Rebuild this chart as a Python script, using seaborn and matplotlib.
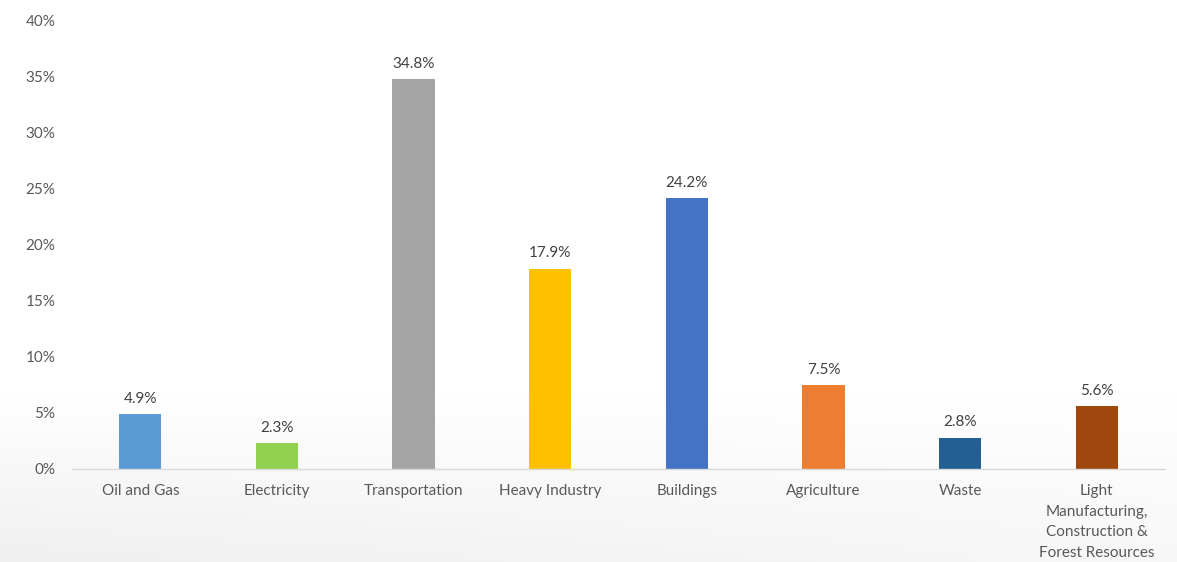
import matplotlib
matplotlib.use("Agg")
import matplotlib.pyplot as plt
import seaborn as sns
import pandas as pd
import numpy as np
from matplotlib.ticker import FuncFormatter

categories = ["Oil and Gas", "Electricity", "Transportation", "Heavy Industry",
              "Buildings", "Agriculture", "Waste",
              "Light\nManufacturing,\nConstruction &\nForest Resources"]
values = [4.9, 2.3, 34.8, 17.9, 24.2, 7.5, 2.8, 5.6]
colors = ["#5B9BD5", "#92D050", "#A5A5A5", "#FFC000",
          "#4472C4", "#ED7D31", "#255E91", "#9E480E"]
y_ticks = [0, 5, 10, 15, 20, 25, 30, 35, 40]

sns.set_style("white")
plt.rcParams['font.family'] = ['Lato', 'DejaVu Sans']

df = pd.DataFrame({"category": categories, "value": values})

fig = plt.figure(figsize=(11.77, 5.62), dpi=100)

# faint decorative background shading at the bottom
bg = fig.add_axes([0, 0, 1, 1], zorder=-1)
bg.axis("off")
gx = np.linspace(0, 1, 300)
gy = np.linspace(0, 1, 150)
GX, GY = np.meshgrid(gx, gy)
shade = np.clip((0.30 - GY) / 0.30, 0, 1) * (1 - 0.5 * GX)
img = 1 - 0.06 * shade
bg.imshow(np.dstack([img, img, img]), origin="lower", extent=[0, 1, 0, 1],
          aspect="auto")
bg.set_xlim(0, 1)
bg.set_ylim(0, 1)

ax = fig.add_axes([72/1177, (562-469)/562, (1165-72)/1177, 448/562])
ax.patch.set_alpha(0)

sns.barplot(data=df, x="category", y="value", hue="category",
            palette=colors, width=0.31, legend=False, ax=ax,
            saturation=1, linewidth=0)

ax.set_ylim(0, 40)
ax.set_xlim(-0.5, len(categories) - 0.5)
ax.set_yticks(y_ticks)
ax.yaxis.set_major_formatter(FuncFormatter(lambda v, p: f"{v:.0f}%"))
ax.set_xlabel("")
ax.set_ylabel("")

for s in ["top", "right", "left"]:
    ax.spines[s].set_visible(False)
ax.spines["bottom"].set_color("#D9D9D9")
ax.spines["bottom"].set_linewidth(1.0)

ax.tick_params(axis="both", length=0, colors="#595959", labelsize=11)
ax.tick_params(axis="y", pad=12)
ax.tick_params(axis="x", pad=11)
for lbl in ax.get_xticklabels():
    lbl.set_linespacing(1.6)
    lbl.set_verticalalignment("top")

for c in ax.containers:
    ax.bar_label(c, labels=[f"{v:.1f}%" for v in c.datavalues],
                 padding=6, color="#404040", fontsize=11)

fig.savefig("out.png", dpi=100, facecolor="white")
